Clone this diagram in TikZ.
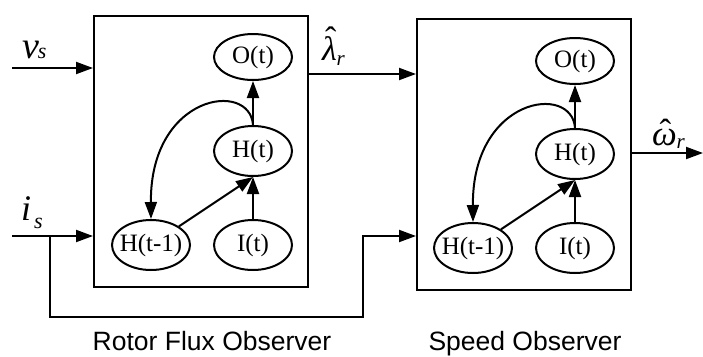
\RequirePackage{fix-cm}
\documentclass[tikz,border=0pt]{standalone}
\usepackage{fontspec}
\setmainfont{Liberation Serif}
\setsansfont{Liberation Sans}
\usetikzlibrary{arrows.meta,shapes.geometric}
\newcommand{\fsz}[1]{\fontsize{#1}{#1}\selectfont}
\newcommand{\hatit}[3]{\ooalign{\itshape #1\cr\hidewidth\kern#3\raisebox{#2}{\upshape ˆ}\hidewidth\cr}}
\begin{document}
\begin{tikzpicture}[x=1pt,y=-1pt,
  line width=2pt,
  arr/.style={-{Triangle[length=17pt,width=12pt]}},
  ellbase/.style={draw,ellipse,minimum width=78pt,inner sep=0pt},
  ell/.style={ellbase,minimum height=50pt},
  ello/.style={ellbase,minimum height=46pt},
  etext/.style={font=\fsz{25},inner sep=0pt},
  blk/.style={draw,rectangle,minimum width=214pt,minimum height=271pt,inner sep=0pt},
  captxt/.style={font=\sffamily\fsz{26.5},anchor=base,inner sep=0pt},
  lab/.style={anchor=base west,inner sep=0pt}
]
\useasboundingbox (0,0) rectangle (703,356);

% ---- Rotor flux observer block
\node[blk] (a-box) at (201,151) {};
\node[ello] (a-o) at (253,57) {};
\node[ell] (a-h) at (253,151) {};
\node[ell] (a-h1) at (151,245) {};
\node[ell] (a-i) at (253,245) {};
\node[etext] (a-ot) at (a-o) {O(t)};
\node[etext] (a-ht) at (a-h) {H(t)};
\node[etext] (a-h1t) at (a-h1) {H(t-1)};
\node[etext] (a-it) at (a-i) {I(t)};
\draw[arr] (a-h.north) -- (a-o.south);
\draw[arr] (a-i.north) -- (a-h.south);
\draw[arr] (a-h1) -- (a-h.south);
\draw[arr] (a-h.north) .. controls +(-3,-45) and +(-1,-125) .. (a-h1.north);

% ---- Speed observer block
\node[blk] (b-box) at (524,154) {};
\node[ello] (b-o) at (575,61) {};
\node[ell] (b-h) at (575,154) {};
\node[ell] (b-h1) at (473,248) {};
\node[ell] (b-i) at (575,248) {};
\node[etext] (b-ot) at (b-o) {O(t)};
\node[etext] (b-ht) at (b-h) {H(t)};
\node[etext] (b-h1t) at (b-h1) {H(t-1)};
\node[etext] (b-it) at (b-i) {I(t)};
\draw[arr] (b-h.north) -- (b-o.south);
\draw[arr] (b-i.north) -- (b-h.south);
\draw[arr] (b-h1) -- (b-h.south);
\draw[arr] (b-h.north) .. controls +(-3,-45) and +(-1,-125) .. (b-h1.north);

% ---- signals
\coordinate (vin) at (12,68);
\coordinate (iin) at (12,236);
\coordinate (br) at (50,236);
\coordinate (c1) at (50,317);
\coordinate (c2) at (363,317);
\coordinate (c3) at (363,236);
\coordinate (lam) at (0,74);
\coordinate (wout) at (703,153);
\draw[arr] (vin) -- (vin -| a-box.west);
\draw[arr] (iin) -- (iin -| a-box.west);
\draw[arr] (br) -- (c1) -- (c2) -- (c3) -- (c3 -| b-box.west);
\draw[arr] (a-box.east |- lam) -- (b-box.west |- lam);
\draw[arr] (b-box.east |- wout) -- (wout);

% ---- labels
\node[lab] (lv) at (21,58) {\itshape\fsz{38}v\kern-1pt\fsz{22}s};
\node[lab] (li) at (20,220) {\itshape\fsz{36}i\hspace{3pt}\raisebox{-8pt}{\fsz{22}s}};
\node[lab] (ll) at (321,60) {\fsz{34}\hatit{λ}{0.27em}{3pt}\raisebox{-5pt}{\fsz{21}\itshape r}};
\node[lab] (lw) at (651,145) {\fsz{35}\hatit{ω}{0.03em}{2pt}\raisebox{-3pt}{\fsz{21}\itshape r}};

\node[captxt] (capa) at (212,350) {Rotor Flux Observer};
\node[captxt] (capb) at (525,350) {Speed Observer};
\end{tikzpicture}
\end{document}
